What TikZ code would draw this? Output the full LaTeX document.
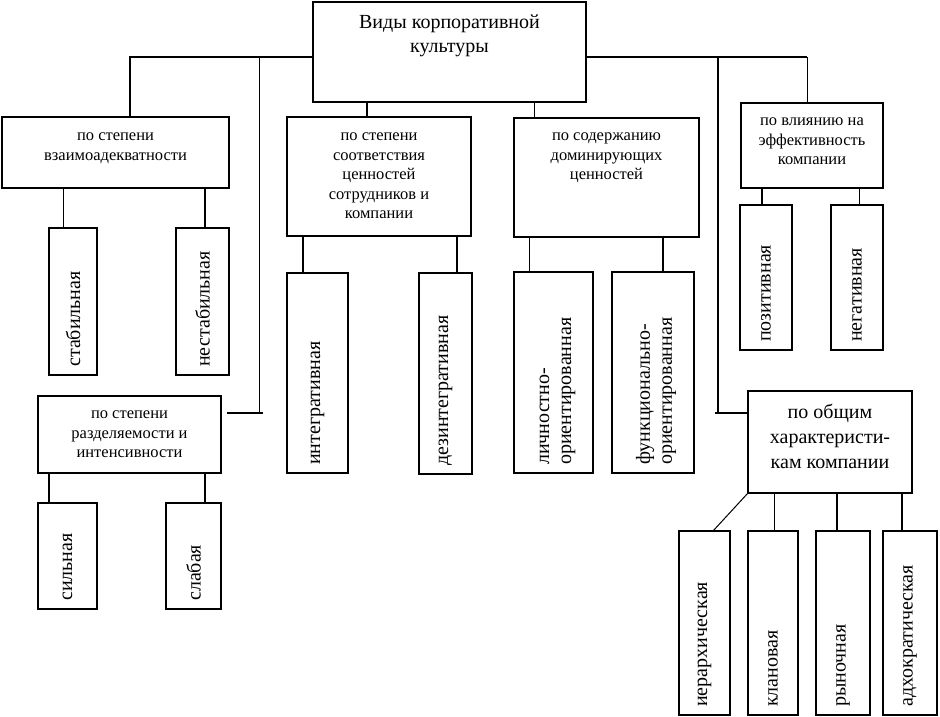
\documentclass[tikz,border=0pt]{standalone}
\usepackage{fontspec}
\setmainfont{Liberation Serif}
\begin{document}
\begin{tikzpicture}[x=1pt,y=-1pt,
  box/.style={draw, line width=1.8pt, inner sep=0pt, outer sep=0pt, anchor=north west},
  thk/.style={line width=2pt},
  thn/.style={line width=1pt},
  big/.style={font=\fontsize{20}{24}\selectfont, align=center, inner sep=0pt, anchor=north},
  sml/.style={font=\fontsize{16.5}{19.5}\selectfont, align=center, inner sep=0pt, anchor=north},
  vert/.style={font=\fontsize{20}{22}\selectfont, align=left, inner sep=0pt, rotate=90, anchor=west}]
\useasboundingbox (0,0) rectangle (940,717);
% main boxes
\node[box, minimum width=273pt, minimum height=100pt] (top) at (313,2) {};
\node[box, minimum width=227pt, minimum height=71pt] (b1) at (2,117) {};
\node[box, minimum width=184pt, minimum height=119pt] (b2) at (287,117) {};
\node[box, minimum width=185pt, minimum height=119pt] (b3) at (514,118) {};
\node[box, minimum width=142pt, minimum height=85pt] (b4) at (741,103) {};
\node[box, minimum width=183pt, minimum height=77pt] (b5) at (38,396) {};
\node[box, minimum width=164pt, minimum height=102pt] (b6) at (748,391) {};
% leaves
\node[box, minimum width=48pt, minimum height=147pt] (stab) at (49,228) {};
\node[box, minimum width=53pt, minimum height=147pt] (nestab) at (176,228) {};
\node[box, minimum width=61pt, minimum height=200pt] (integ) at (287,273) {};
\node[box, minimum width=53pt, minimum height=201pt] (dezint) at (419,273) {};
\node[box, minimum width=79pt, minimum height=201pt] (lichn) at (514,272) {};
\node[box, minimum width=82pt, minimum height=201pt] (funk) at (612,272) {};
\node[box, minimum width=52pt, minimum height=145pt] (pozit) at (740,205) {};
\node[box, minimum width=52pt, minimum height=145pt] (negat) at (831,205) {};
\node[box, minimum width=59pt, minimum height=106pt] (silna) at (38,503) {};
\node[box, minimum width=55pt, minimum height=106pt] (slaba) at (166,503) {};
\node[box, minimum width=51pt, minimum height=184pt] (ierar) at (679,531) {};
\node[box, minimum width=50pt, minimum height=184pt] (klan) at (748,531) {};
\node[box, minimum width=54pt, minimum height=184pt] (rynok) at (816,531) {};
\node[box, minimum width=54pt, minimum height=184pt] (adhok) at (883,531) {};
% texts of main boxes
\node[big] (ttop) at ([yshift=-9.5pt]top.north) {\strut Виды корпоративной\\культуры};
\node[sml] (tb1) at ([yshift=-10pt]b1.north) {\strut по степени\\взаимоадекватности};
\node[sml] (tb2) at ([yshift=-10pt]b2.north) {\strut по степени\\соответствия\\ценностей\\сотрудников и\\компании};
\node[sml] (tb3) at ([yshift=-9pt]b3.north) {\strut по содержанию\\доминирующих\\ценностей};
\node[sml] (tb4) at ([yshift=-9pt]b4.north) {\strut по влиянию на\\эффективность\\компании};
\node[sml] (tb5) at ([yshift=-9pt]b5.north) {\strut по степени\\разделяемости и\\интенсивности};
\node[big, font=\fontsize{20}{25}\selectfont] (tb6) at ([yshift=-10pt]b6.north) {\strut по общим\\характеристи-\\кам компании};
% vertical texts
\node[vert] (tstab) at ([yshift=8pt]stab.south) {стабильная};
\node[vert] (tnestab) at ([yshift=8pt]nestab.south) {нестабильная};
\node[vert] (tinteg) at ([yshift=8pt]integ.south) {интегративная};
\node[vert] (tdezint) at ([yshift=8pt]dezint.south) {дезинтегративная};
\node[vert] (tlichn) at ([yshift=8pt,xshift=4pt]lichn.south) {личностно-\\ориентированная};
\node[vert] (tfunk) at ([yshift=8pt,xshift=3pt]funk.south) {функционально-\\ориентированная};
\node[vert] (tpozit) at ([yshift=8pt]pozit.south) {позитивная};
\node[vert] (tnegat) at ([yshift=8pt]negat.south) {негативная};
\node[vert] (tsilna) at ([yshift=8pt]silna.south) {сильная};
\node[vert] (tslaba) at ([yshift=8pt]slaba.south) {слабая};
\node[vert] (tierar) at ([yshift=8pt]ierar.south) {иерархическая};
\node[vert] (tklan) at ([yshift=8pt]klan.south) {клановая};
\node[vert] (trynok) at ([yshift=8pt]rynok.south) {рыночная};
\node[vert] (tadhok) at ([yshift=8pt]adhok.south) {адхократическая};
% junction coordinates
\coordinate (jl) at (130,57);
\coordinate (jm) at (259,57);
\coordinate (jr) at (718,57);
\coordinate (je) at (807,57);
\coordinate (sl) at (227,413);
\coordinate (sr) at (715,413);
% connectors from the top box
\draw[thk] (top.west |- jl) -| (b1.north -| jl);
\draw[thk] (top.east |- jr) -- (je);
\draw[thn] (je) -- (b4.north -| je);
\draw[thn] (jm) -- (jm |- sl);
\draw[thk] (sl) -- ([xshift=4pt]jm |- sl);
\draw[line width=1.5pt] (jr) -- (jr |- sr);
\draw[thk] (sr) -- (b6.west |- sr);
\draw[thk] (top.south -| 367,0) -- (b2.north -| 367,0);
\draw[thn] (top.south -| 534,0) -- (b3.north -| 534,0);
% children
\draw[thn] (b1.south -| 63,0) -- (stab.north -| 63,0);
\draw[thk] (b1.south -| 205,0) -- (nestab.north -| 205,0);
\draw[thk] (b2.south -| 303,0) -- (integ.north -| 303,0);
\draw[thk] (b2.south -| 457,0) -- (dezint.north -| 457,0);
\draw[thn] (b3.south -| 529,0) -- (lichn.north -| 529,0);
\draw[thk] (b3.south -| 663,0) -- (funk.north -| 663,0);
\draw[thk] (b4.south -| 762,0) -- (pozit.north -| 762,0);
\draw[thn] (b4.south -| 859,0) -- (negat.north -| 859,0);
\draw[thk] (b5.south -| 49,0) -- (silna.north -| 49,0);
\draw[thk] (b5.south -| 205,0) -- (slaba.north -| 205,0);
\draw[thn] (b6.south west) -- (ierar.north -| 713,0);
\draw[thn] (b6.south -| 774,0) -- (klan.north -| 774,0);
\draw[thk] (b6.south -| 837,0) -- (rynok.north -| 837,0);
\draw[thk] (b6.south -| 902,0) -- (adhok.north -| 902,0);
\end{tikzpicture}
\end{document}
